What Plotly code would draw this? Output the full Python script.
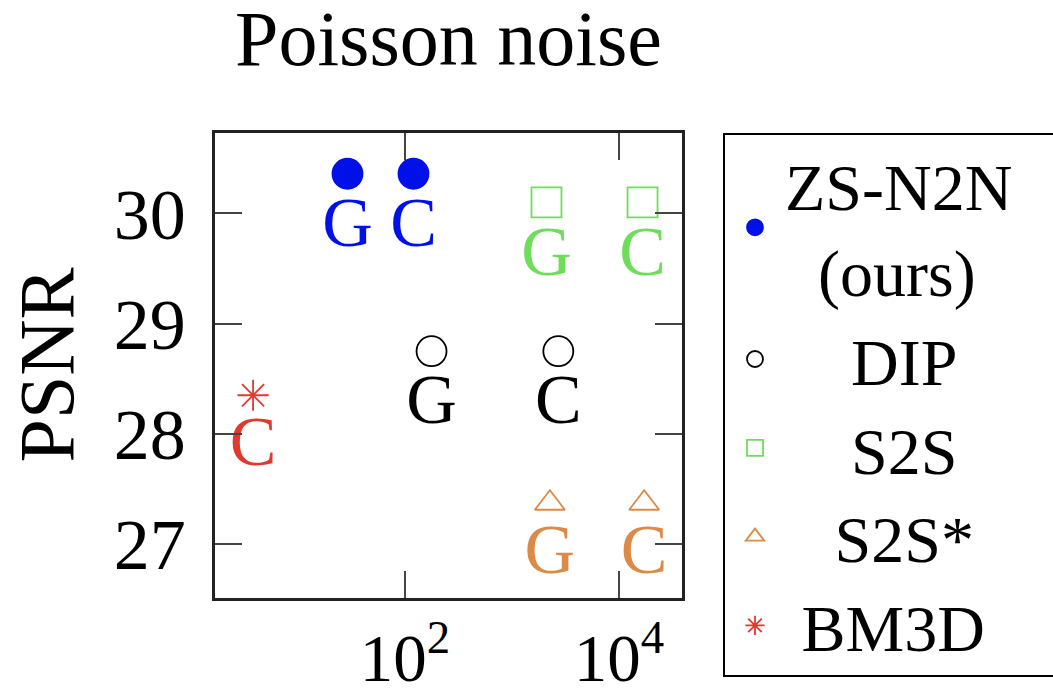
import plotly.graph_objects as go

# ---- data ----
names = ["ZS-N2N&nbsp;&nbsp;&nbsp;&nbsp;<br>&nbsp;&nbsp;(ours)", "&nbsp;&nbsp;&nbsp;&nbsp;DIP", "&nbsp;&nbsp;&nbsp;&nbsp;S2S",
         "&nbsp;&nbsp;&nbsp;S2S*", "&nbsp;BM3D"]
colors = ["#0010e8", "#000000", "#6ede5a", "#dc8a48", "#e03a30"]
symbols = ["circle", "circle-open", "square-open", "triangle-up-open", "asterisk-open"]

zs_x = [29, 120]
zs_y = [30.36, 30.36]
zs_lab = ["G", "C"]

dip_x = [177, 2710]
dip_y = [28.75, 28.75]
dip_lab = ["G", "C"]

s2s_x = [2100, 16600]
s2s_y = [30.10, 30.10]
s2s_lab = ["G", "C"]

s2ss_x = [2260, 17200]
s2ss_y = [27.37, 27.37]
s2ss_lab = ["G", "C"]

bm3d_x = [3.8]
bm3d_y = [28.35]
bm3d_lab = ["C"]

xs = [zs_x, dip_x, s2s_x, s2ss_x, bm3d_x]
ys = [zs_y, dip_y, s2s_y, s2ss_y, bm3d_y]
labs = [zs_lab, dip_lab, s2s_lab, s2ss_lab, bm3d_lab]
sizes = [30, 30, 30, 26, 26]

x_tickvals = [100, 10000]
x_ticktext = ["10<sup>2</sup>", "10<sup>4</sup>"]
y_tickvals = [27, 28, 29, 30]

FONT = "Liberation Serif"

fig = go.Figure()
for name, c, s, x, y, t, sz in zip(names, colors, symbols, xs, ys, labs, sizes):
    fig.add_trace(go.Scatter(
        x=x, y=y, mode="markers+text", name=name,
        text=t, textposition="bottom center",
        textfont=dict(family=FONT, size=70, color=c),
        marker=dict(symbol=s, size=sz, color=c, line=dict(color=c, width=1.8)),
        cliponaxis=False,
    ))

fig.update_layout(
    width=1053, height=691,
    margin=dict(l=215, r=371, t=133, b=93, autoexpand=False),
    paper_bgcolor="white", plot_bgcolor="white",
    font=dict(family=FONT, color="black"),
    title=dict(text="Poisson noise", x=448.5 / 1053, xanchor="center",
               y=1 - 10 / 691, yanchor="top",
               font=dict(family=FONT, size=78, color="black")),
    showlegend=True,
    legend=dict(x=(723 - 215) / 467, xanchor="left", y=1, yanchor="top",
                bordercolor="black", borderwidth=2,
                font=dict(family=FONT, size=66, color="black"),
                itemsizing="trace", maxheight=700, itemwidth=50),
)
fig.update_xaxes(
    type="log", range=[0.224, 4.589],
    tickvals=x_tickvals, ticktext=x_ticktext,
    ticks="inside", ticklen=27, tickwidth=1.5, tickcolor="#444",
    showline=True, linecolor="#222", linewidth=2.5, mirror="ticks",
    showgrid=False, zeroline=False,
    tickfont=dict(family=FONT, size=67, color="black"),
    ticklabelstandoff=0,
)
fig.update_yaxes(
    range=[26.51, 30.73], tickvals=y_tickvals,
    ticks="inside", ticklen=27, tickwidth=1.5, tickcolor="#444",
    showline=True, linecolor="#222", linewidth=2.5, mirror="ticks",
    showgrid=False, zeroline=False,
    tickfont=dict(family=FONT, size=72, color="black"),
    ticklabelstandoff=12,
)
fig.add_annotation(
    text="PSNR", textangle=-90, xref="paper", yref="paper",
    x=(46 - 215) / 467, y=0.5, xanchor="center", yanchor="middle",
    showarrow=False, font=dict(family=FONT, size=78, color="black"),
)

fig.write_html("out.html", config={"displayModeBar": False},
               post_script="document.body.style.margin='0';document.body.style.overflow='hidden';")
